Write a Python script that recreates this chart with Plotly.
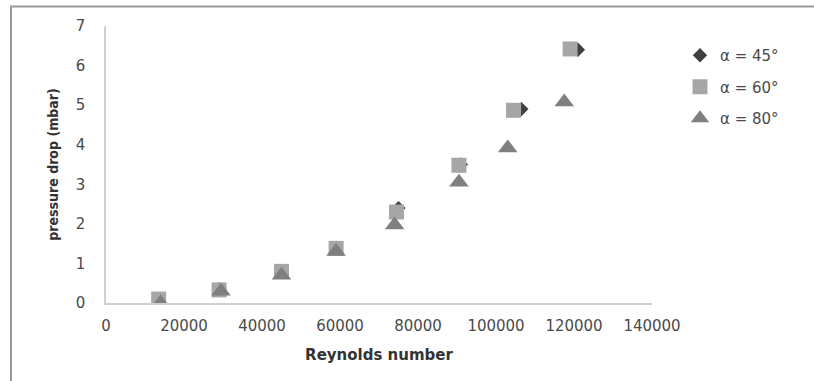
import plotly.graph_objects as go

# Reynolds number and pressure drop for each inclination angle
re_45 = [13500, 29000, 45000, 59000, 75000, 91000, 106500, 121000]
dp_45 = [0.10, 0.35, 0.80, 1.40, 2.40, 3.50, 4.90, 6.40]

re_60 = [13500, 29000, 45000, 59000, 74500, 90500, 104500, 119000]
dp_60 = [0.10, 0.33, 0.80, 1.38, 2.30, 3.48, 4.87, 6.42]

re_80 = [14000, 29500, 45000, 59000, 74000, 90500, 103000, 117500]
dp_80 = [0.00, 0.30, 0.70, 1.30, 1.97, 3.05, 3.92, 5.08]

series_names = ["α = 45°", "α = 60°", "α = 80°"]

W, H = 814, 381
L, R, T, B = 106, 162, 26, 78

fig = go.Figure()
fig.add_trace(go.Scatter(x=re_45, y=dp_45, mode="markers", name=series_names[0],
                         legendgroup="a",
                         marker=dict(symbol="diamond", size=11, color="#404040")))
fig.add_trace(go.Scatter(x=re_60, y=dp_60, mode="markers", name=series_names[1],
                         legendgroup="b",
                         marker=dict(symbol="square", size=15, color="#a6a6a6")))
fig.add_trace(go.Scatter(x=re_80, y=dp_80, mode="markers", name=series_names[2],
                         legendgroup="c",
                         marker=dict(symbol="triangle-up", size=17, color="#7f7f7f")))

pw = W - L - R
ph = H - T - B


def px_x(p):
    return (p - L) / pw


def px_y(p):
    return (H - B - p) / ph


tick_color = "#4a4a4a"

fig.update_layout(
    width=W, height=H,
    margin=dict(l=L, r=R, t=T, b=B),
    paper_bgcolor="white", plot_bgcolor="white",
    font=dict(family="DejaVu Sans", size=15, color=tick_color),
    showlegend=True,
    legend=dict(x=px_x(680), y=px_y(39), xanchor="left", yanchor="top",
                font=dict(family="DejaVu Sans", size=15, color=tick_color),
                tracegroupgap=9, traceorder="grouped",
                bgcolor="rgba(0,0,0,0)", itemwidth=30),
    xaxis=dict(range=[0, 140000], tickvals=list(range(0, 140001, 20000)),
               tickformat="d", showgrid=False, zeroline=False,
               showline=True, linecolor="#d0d0d0", linewidth=1.5,
               ticks="", ticklabelstandoff=8, tickfont=dict(size=15, color=tick_color),
               title=dict(text="Reynolds number", standoff=16,
                          font=dict(family="DejaVu Sans", size=15, color="#333333", weight="bold"))),
    yaxis=dict(range=[0, 7], dtick=1, showgrid=False, zeroline=False,
               showline=True, linecolor="#d0d0d0", linewidth=1.5,
               ticks="", ticklabelstandoff=16, tickfont=dict(size=15, color=tick_color),
               title=dict(text="pressure drop (mbar)", standoff=14,
                          font=dict(family="DejaVu Sans Condensed", size=14, color="#333333", weight="bold"))),
    shapes=[
        dict(type="line", xref="paper", yref="paper",
             x0=px_x(10), x1=px_x(W), y0=px_y(6.5), y1=px_y(6.5),
             line=dict(color="#9a9a9a", width=2)),
        dict(type="line", xref="paper", yref="paper",
             x0=px_x(11), x1=px_x(11), y0=px_y(6), y1=px_y(H),
             line=dict(color="#9a9a9a", width=2)),
    ],
)

fig.write_html("out.html")
